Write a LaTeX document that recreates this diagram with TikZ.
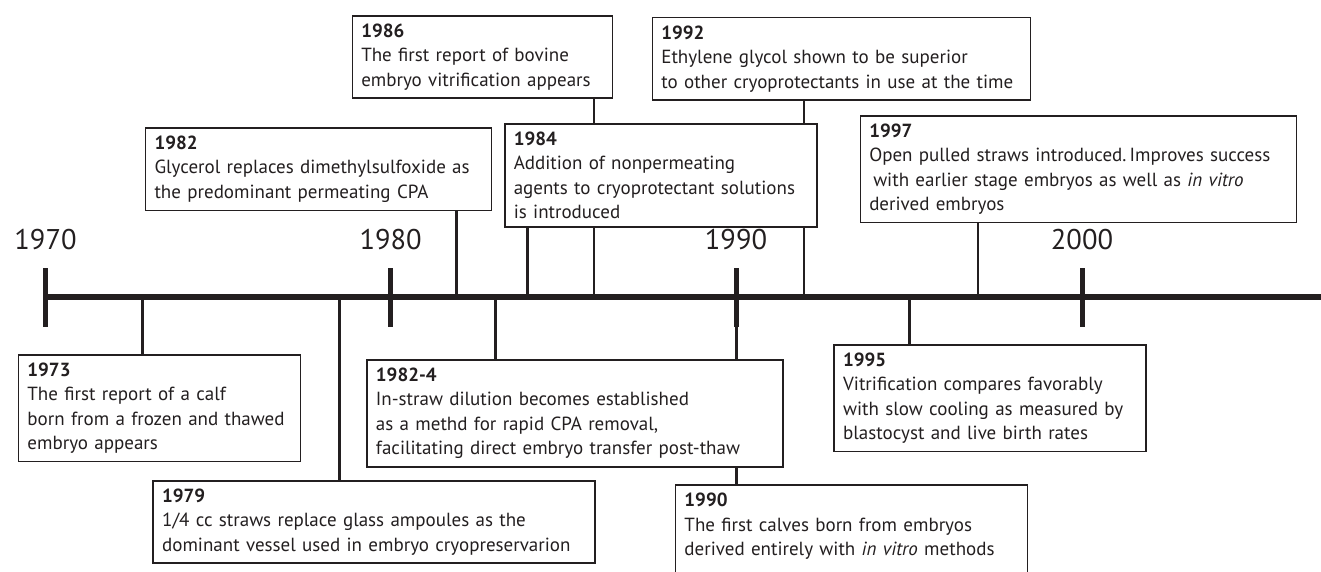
\documentclass[tikz,border=0pt]{standalone}
\usepackage{fontspec}
\setmainfont{PT Sans}
\usetikzlibrary{calc}
\definecolor{ink}{HTML}{231F20}
\pgfdeclarelayer{background}
\pgfsetlayers{background,main}

\tikzset{
  event/.style={draw=ink, line width=1.5pt, fill=white, anchor=north west, align=left,
    inner xsep=9pt, inner ysep=8pt, text=ink, font=\fontsize{19}{24.5}\selectfont},
  link/.style={draw=ink, line width=2.6pt},
  ticks/.style={draw=ink, line width=5pt},
  decade/.style={text=ink, font=\fontsize{28.5}{30}\selectfont},
}
\newcommand{\yr}[1]{\textbf{#1}\\}

\begin{document}
\begin{tikzpicture}[x=1pt,y=-1pt]
  \useasboundingbox (0,0) rectangle (1321,571);

  % where each event meets the time line
  \foreach \n/\x in {1970/45.5,1973/142.3,1979/339.2,1982/456.7,1983/495.4,1984/527.4,
                     1986/594,1990/736.6,1992/804,1995/909.2,1997/977.8}
    \coordinate (y\n) at (\x,297);

  % time line with the decades
  \draw[ink, line width=5.5pt] (y1970) -- (1330,297);
  \foreach \d/\x in {1970/45.5,1980/390.7,1990/736,2000/1082} {
    \draw[ticks] (\x,268) -- (\x,327);
    \node[decade] (d\d) at (\x,240) {\d};
  }

  % above the line
  \node[event, text width=242pt] (e1986) at (351.5,15)
    {\yr{1986}The first report of bovine\\embryo vitrification appears};
  \node[event, text width=360pt] (e1992) at (651.6,16.7)
    {\yr{1992}Ethylene glycol shown to be superior\\to other cryoprotectants in use at the time};
  \node[event, text width=328pt] (e1982) at (144.8,127)
    {\yr{1982}Glycerol replaces dimethylsulfoxide as\\the predominant permeating CPA};
  \node[event, text width=294pt] (e1984) at (504,123)
    {\yr{1984}Addition of nonpermeating\\agents to cryoprotectant solutions\\is introduced};
  \node[event, text width=418pt] (e1997) at (859.5,115)
    {\yr{1997}Open pulled straws introduced.\,Improves success\\\hspace*{4pt}with earlier stage embryos as well as \emph{in vitro}\\derived embryos};

  % below the line
  \node[event, text width=264pt] (e1973) at (17.7,354)
    {\yr{1973}The first report of a calf\\born from a frozen and thawed\\embryo appears};
  \node[event, text width=398pt] (e1983) at (366.2,359)
    {\yr{1982-4}In-straw dilution becomes established\\as a methd for rapid CPA removal,\\facilitating direct embryo transfer post-thaw};
  \node[event, text width=424pt] (e1979) at (152.4,480)
    {\yr{1979}1/4 cc straws replace glass ampoules as the\\dominant vessel used in embryo cryopreservarion};
  \node[event, text width=294pt] (e1995) at (833.4,344)
    {\yr{1995}Vitrification compares favorably\\with slow cooling as measured by\\blastocyst and live birth rates};
  \node[event, text width=334pt] (e1990) at (674.7,484.3)
    {\yr{1990}The first calves born from embryos\\derived entirely with \emph{in vitro} methods\\\mbox{}};

  % stems, kept behind the boxes
  \begin{pgfonlayer}{background}
    \foreach \n/\a in {1973/north,1979/north,1983/north,1990/north,1995/north,
                       1982/south,1984/south,1986/south,1992/south,1997/south}
      \draw[link] (y\n) -- (y\n |- e\n.\a);
  \end{pgfonlayer}
\end{tikzpicture}
\end{document}
